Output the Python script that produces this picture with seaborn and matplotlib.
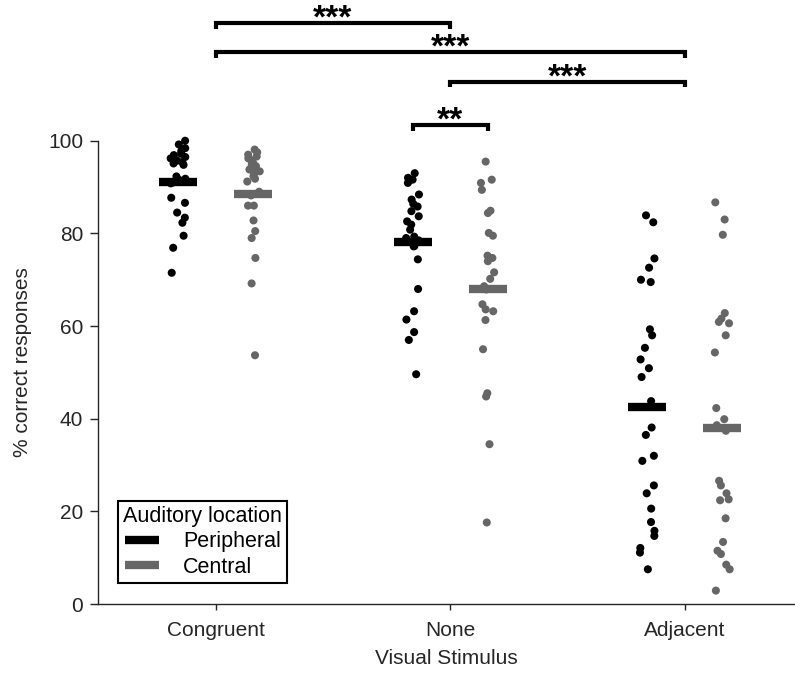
import numpy as np
import pandas as pd
import matplotlib
matplotlib.use("Agg")
import matplotlib.pyplot as plt
from matplotlib.lines import Line2D
import seaborn as sns

# stimulus categories and auditory location levels
categories = ["Congruent", "None", "Adjacent"]
locations = ["Peripheral", "Central"]

# individual % correct per participant
congruent_peripheral = [100, 99.2, 98.4, 97.8, 97.2, 96.9, 96.5, 96.2, 96.0, 95.7, 95.4, 95.1,
                        94.8, 91.8, 91.0, 91.5, 90.8, 92.3, 87.7, 86.6, 84.5, 83.4, 82.3,
                        79.5, 76.9, 71.5]
congruent_central = [98.1, 97.0, 96.6, 94.8, 94.2, 93.4, 92.3, 91.2, 86.0, 86.0, 82.8, 80.5,
                     79.0, 74.7, 69.2, 53.7, 97.5, 96.2, 95.8, 95.2, 94.5, 93.8, 92.8, 91.8,
                     89.0, 88.2]
none_peripheral = [93.0, 92.0, 91.6, 90.9, 88.4, 87.3, 85.8, 84.8, 83.7, 81.9, 80.8, 77.2,
                   74.4, 68.0, 63.2, 61.4, 58.7, 57.0, 49.6, 78.5, 77.8, 79.3, 79.0, 86.4,
                   82.6, 77.3]
none_central = [95.5, 91.6, 90.9, 89.4, 84.9, 84.4, 80.1, 79.5, 75.2, 74.7, 74.0, 71.6,
                70.2, 64.7, 63.6, 63.2, 61.3, 55.0, 45.5, 44.8, 34.5, 17.6, 68.6, 67.9]
adjacent_peripheral = [83.9, 82.4, 74.6, 72.6, 70.0, 69.5, 59.3, 58.0, 55.3, 52.8, 50.9, 49.0,
                       43.8, 38.1, 36.5, 32.0, 30.9, 25.6, 23.9, 20.6, 17.7, 15.8, 14.7,
                       12.1, 11.1, 7.5]
adjacent_central = [86.7, 83.0, 79.7, 62.8, 61.6, 60.9, 60.6, 58.0, 54.3, 42.3, 39.9, 26.6,
                    25.6, 23.9, 22.4, 22.6, 18.5, 13.4, 11.5, 10.8, 8.5, 7.5, 2.9, 38.6, 37.4]

# group means (horizontal bars)
mean_peripheral = [91.2, 78.1, 42.6]
mean_central = [88.6, 68.1, 38.1]

# significance brackets: (from, to) in group positions, label
sig_pairs = [((0, None), (1, None), "***"),
             ((0, None), (2, None), "***"),
             ((1, None), (2, None), "***"),
             ((1, "Peripheral"), (1, "Central"), "**")]
sig_heights = [125.4, 119.1, 112.7, 103.4]

groups = {
    ("Congruent", "Peripheral"): congruent_peripheral,
    ("Congruent", "Central"): congruent_central,
    ("None", "Peripheral"): none_peripheral,
    ("None", "Central"): none_central,
    ("Adjacent", "Peripheral"): adjacent_peripheral,
    ("Adjacent", "Central"): adjacent_central,
}

offset = {"Peripheral": -0.16, "Central": 0.16}
palette = {"Peripheral": "black", "Central": "#666666"}

rows = []
for (cat, loc), vals in groups.items():
    for v in vals:
        rows.append({"pos": categories.index(cat) + offset[loc], "value": v, "Auditory": loc})
df = pd.DataFrame(rows)

mean_rows = []
for i, cat in enumerate(categories):
    mean_rows.append({"pos": i + offset["Peripheral"], "value": mean_peripheral[i], "Auditory": "Peripheral"})
    mean_rows.append({"pos": i + offset["Central"], "value": mean_central[i], "Auditory": "Central"})
df_means = pd.DataFrame(mean_rows)

sns.set_style("ticks")
plt.rcParams["font.family"] = ["Liberation Sans", "DejaVu Sans"]

fig = plt.figure(figsize=(7.95, 6.78), dpi=100)
ax = fig.add_axes([0.1237, 0.1091, 0.8763, 0.6833])

np.random.seed(4)
sns.stripplot(data=df, x="pos", y="value", hue="Auditory", hue_order=locations,
              native_scale=True, palette=palette, size=5.8, jitter=True,
              linewidth=0, legend=False, ax=ax, zorder=3)
for coll in ax.collections:
    coll.set_clip_on(False)
sns.pointplot(data=df_means, x="pos", y="value", hue="Auditory", hue_order=locations,
              native_scale=True, palette=palette, errorbar=None, marker="_",
              linestyle="none", markersize=28, markeredgewidth=6,
              legend=False, ax=ax, zorder=5)

ax.set_xlim(-0.5, 2.47)
ax.set_ylim(0, 100)
ax.set_xticks(range(len(categories)))
ax.set_xticklabels(categories)
ax.set_yticks([0, 20, 40, 60, 80, 100])
ax.tick_params(axis="both", labelsize=15, width=1, colors="#262626")
ax.tick_params(axis="y", length=6, pad=5)
ax.tick_params(axis="x", length=4.5, pad=8)
ax.set_xlabel("Visual Stimulus", fontsize=15, labelpad=6)
ax.set_ylabel("% correct responses", fontsize=15)
ax.yaxis.set_label_coords(-0.095, 0.522)
for side in ["top", "right"]:
    ax.spines[side].set_visible(False)
for side in ["left", "bottom"]:
    ax.spines[side].set_color("#262626")
    ax.spines[side].set_linewidth(1)

# brackets with stars
def grp_x(g):
    idx, loc = g
    return idx + (offset[loc] if loc else 0)

for (a, b, label), h in zip(sig_pairs, sig_heights):
    x1, x2 = grp_x(a), grp_x(b)
    ax.plot([x1, x1, x2, x2], [h - 1.2, h, h, h - 1.2], color="black", lw=3,
            clip_on=False, solid_joinstyle="miter", solid_capstyle="butt")
    ax.annotate(label, xy=((x1 + x2) / 2, h), xytext=(0, -3), textcoords="offset points",
                ha="center", va="baseline", fontsize=24, fontweight="bold", color="black",
                annotation_clip=False)

handles = [Line2D([], [], color=palette[l], lw=6, solid_capstyle="butt") for l in locations]
leg = ax.legend(handles, locations, title="Auditory location", loc="lower left",
                bbox_to_anchor=(0.028, 0.045), fontsize=15.5, title_fontsize=15.5,
                frameon=True, fancybox=False, framealpha=1, edgecolor="black",
                handlelength=1.6, handletextpad=1.1, labelspacing=0.2, borderpad=0.25,
                borderaxespad=0)
leg.get_frame().set_linewidth(1.5)
for t in leg.get_texts() + [leg.get_title()]:
    t.set_color("black")

fig.savefig("out.png", dpi=100)
